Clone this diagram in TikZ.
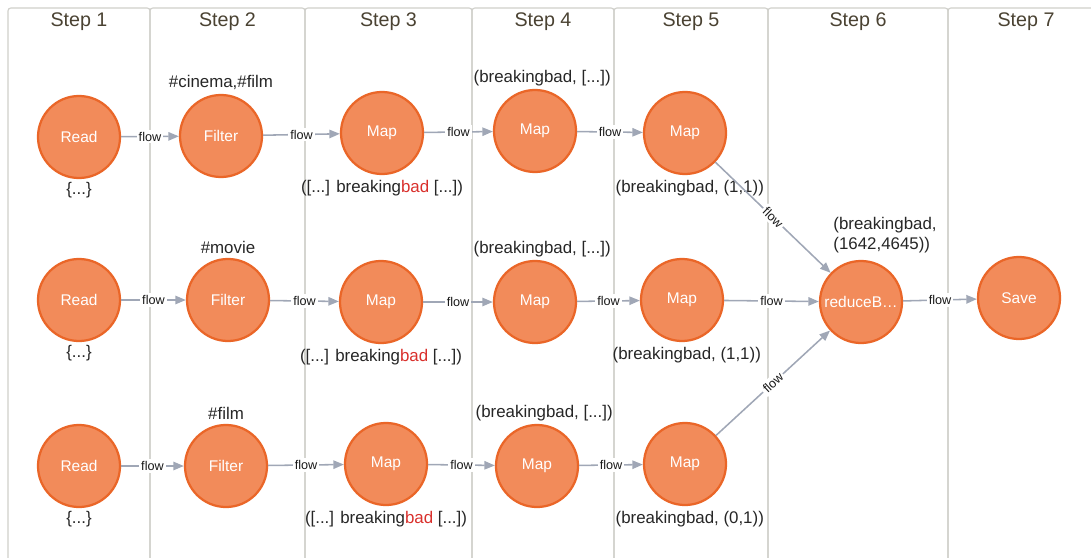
\documentclass[tikz,border=0pt]{standalone}
\usepackage{fontspec}
\setmainfont{Liberation Sans}[Ligatures=NoCommon]
\usetikzlibrary{arrows.meta,positioning}

\definecolor{opfill}{HTML}{F28B5A}
\definecolor{opline}{HTML}{EA6628}
\definecolor{edgegray}{HTML}{A0A7B6}
\definecolor{lanegray}{HTML}{CFCFCA}
\definecolor{steptext}{HTML}{4A4232}
\definecolor{hl}{HTML}{D9302C}

\begin{document}
\begin{tikzpicture}[
  x=0.025cm, y=-0.025cm,
  lane/.style={draw=lanegray,line width=0.8pt,rounded corners=2pt},
  steptitle/.style={text=steptext,font=\fontsize{14}{16}\selectfont},
  op/.style={circle,draw=opline,line width=1.6pt,fill=opfill,minimum size=2.05cm,inner sep=0pt,text=white,font=\fontsize{11}{13}\selectfont},
  note/.style={inner sep=1pt,font=\fontsize{12}{14}\selectfont,text=black!85,align=left},
  arr/.style={-{Triangle[length=7.5pt,width=6pt]},draw=edgegray,line width=1.1pt},
  lbl/.style={fill=white,inner sep=1.5pt,text=black!90,font=\fontsize{9}{10}\selectfont},
]
\clip (0,0) rectangle (1091,558);

% swim lanes, one per step
\foreach \xa/\xb/\n in {8/150/1,150/305/2,305/472/3,472/614/4,614/768/5,768/948/6,948/1104/7}{
  \draw[lane] (\xa,600) -- (\xa,8) -- (\xb,8) -- (\xb,600);
  \node[steptitle] (step\n) at ({(\xa+\xb)/2},22) {Step \n};
}

% operators
\node[op] (rd1) at (79,137) {Read};
\node[op] (rd2) at (79,300) {Read};
\node[op] (rd3) at (79,466) {Read};
\node[op] (fl1) at (221,136) {Filter};
\node[op] (fl2) at (228,300) {Filter};
\node[op] (fl3) at (226,466) {Filter};
\node[op] (mpa1) at (382,133) {Map};
\node[op] (mpa2) at (381,302) {Map};
\node[op] (mpa3) at (386,464) {Map};
\node[op] (mpb1) at (535,131) {Map};
\node[op] (mpb2) at (535,302) {Map};
\node[op] (mpb3) at (537,466) {Map};
\node[op] (mpc1) at (685,133) {Map};
\node[op] (mpc2) at (682,300) {Map};
\node[op] (mpc3) at (685,464) {Map};
\node[op] (red) at (861,302) {reduceB\ldots};
\node[op] (sav) at (1019,298) {Save};

% data seen at each stage
\node[note,below=1pt of rd1] {\{...\}};
\node[note,below=1pt of rd2] {\{...\}};
\node[note,below=1pt of rd3] {\{...\}};
\node[note,above=2pt of fl1] {\#cinema,\#film};
\node[note,above=2pt of fl2] {\#movie};
\node[note,above=2pt of fl3] {\#film};
\node[note,below=2.5pt of mpa1] {([...] breaking\textcolor{hl}{bad} [...])};
\node[note,below=2.5pt of mpa2] {([...] breaking\textcolor{hl}{bad} [...])};
\node[note,below=2.5pt of mpa3] {([...] breaking\textcolor{hl}{bad} [...])};
\node[note,above=0.5pt of mpb1,xshift=0.18cm] {(breakingbad, [...])};
\node[note,above=0.5pt of mpb2,xshift=0.18cm] {(breakingbad, [...])};
\node[note,above=0.5pt of mpb3,xshift=0.18cm] {(breakingbad, [...])};
\node[note,below=2.5pt of mpc1,xshift=0.12cm] {(breakingbad, (1,1))};
\node[note,below=2.5pt of mpc2,xshift=0.12cm] {(breakingbad, (1,1))};
\node[note,below=2.5pt of mpc3,xshift=0.12cm] {(breakingbad, (0,1))};
\node[note,above=4pt of red,xshift=0.6cm] {(breakingbad,\\(1642,4645))};

% flows
\draw[arr] (rd1) -- node[lbl]{flow} (fl1);
\draw[arr] (rd2) -- node[lbl]{flow} (fl2);
\draw[arr] (rd3) -- node[lbl]{flow} (fl3);
\draw[arr] (fl1) -- node[lbl]{flow} (mpa1);
\draw[arr] (fl2) -- node[lbl]{flow} (mpa2);
\draw[arr] (fl3) -- node[lbl]{flow} (mpa3);
\draw[arr] (mpa1) -- node[lbl]{flow} (mpb1);
\draw[arr] (mpa2) -- node[lbl]{flow} (mpb2);
\draw[arr] (mpa3) -- node[lbl]{flow} (mpb3);
\draw[arr] (mpb1) -- node[lbl]{flow} (mpc1);
\draw[arr] (mpb2) -- node[lbl]{flow} (mpc2);
\draw[arr] (mpb3) -- node[lbl]{flow} (mpc3);
\draw[arr] (mpc1) -- node[lbl,sloped]{flow} (red);
\draw[arr] (mpc2) -- node[lbl]{flow} (red);
\draw[arr] (mpc3) -- node[lbl,sloped]{flow} (red);
\draw[arr] (red) -- node[lbl]{flow} (sav);
\end{tikzpicture}
\end{document}
